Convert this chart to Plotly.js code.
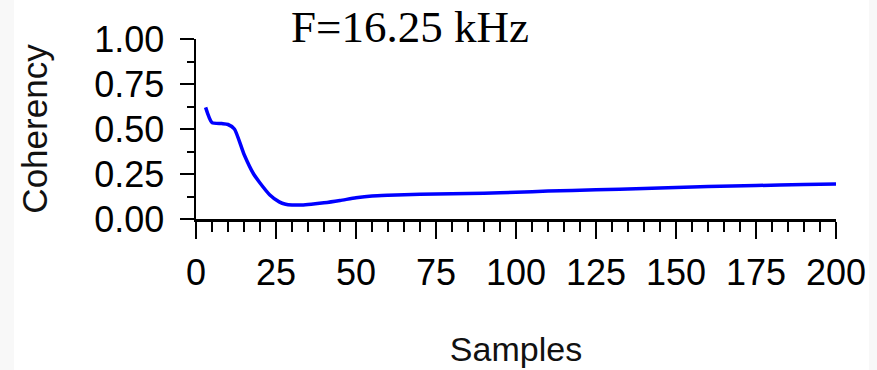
<!DOCTYPE html>
<html>
<head>
<meta charset="utf-8">
<script src="https://cdn.plot.ly/plotly-3.0.1.min.js"></script>
<style>html,body{margin:0;padding:0;background:#fff;}#chart{width:877px;height:370px;}</style>
</head>
<body>
<div id="chart"></div>
<script>
const titleText = "F=16.25 kHz";
const xTitle = "Samples";
const yTitle = "Coherency";
const samples = [3, 5, 8, 10, 12, 15, 18, 20, 23, 26, 28, 30, 33, 36, 40, 45, 50, 55, 60, 70, 80, 90, 100, 110, 125, 140, 150, 160, 175, 190, 200];
const coherency = [0.62, 0.535, 0.53, 0.525, 0.50, 0.36, 0.25, 0.20, 0.135, 0.095, 0.082, 0.078, 0.078, 0.082, 0.09, 0.103, 0.118, 0.128, 0.132, 0.137, 0.14, 0.143, 0.148, 0.155, 0.162, 0.17, 0.175, 0.18, 0.186, 0.192, 0.195];
const xTicks = [0, 25, 50, 75, 100, 125, 150, 175, 200];
const yTicks = [0, 0.25, 0.5, 0.75, 1.0];
const yTickLabels = ["0.00", "0.25", "0.50", "0.75", "1.00"];

const sans = "Liberation Sans, Arial, sans-serif";
const trace = {
  x: samples, y: coherency, type: "scatter", mode: "lines",
  line: {color: "#0000ff", width: 3.5, shape: "spline", smoothing: 0.6},
  hoverinfo: "skip"
};
const layout = {
  width: 877, height: 370,
  margin: {l: 196, r: 41, t: 39, b: 151},
  paper_bgcolor: "#fff", plot_bgcolor: "#fff",
  showlegend: false,
  xaxis: {
    range: [0, 200], tickvals: xTicks, ticks: "outside", ticklen: 17, tickwidth: 2, tickcolor: "#000",
    showline: true, linecolor: "#000", linewidth: 2.5, showgrid: false, zeroline: false,
    tickfont: {family: sans, size: 36, color: "#000"}, ticklabelstandoff: 3,
    minor: {dtick: 5, ticks: "outside", ticklen: 10, tickwidth: 2, tickcolor: "#000", showgrid: false},
    title: {text: xTitle, font: {family: sans, size: 34, color: "#111"}, standoff: 46}
  },
  yaxis: {
    range: [0, 1], tickvals: yTicks, ticktext: yTickLabels, ticks: "outside", ticklen: 14, tickwidth: 2, tickcolor: "#000",
    showline: true, linecolor: "#000", linewidth: 2.5, showgrid: false, zeroline: false,
    tickfont: {family: sans, size: 36, color: "#000"}, ticklabelstandoff: 8,
    minor: {dtick: 0.125, ticks: "outside", ticklen: 7, tickwidth: 2, tickcolor: "#000", showgrid: false},
    title: {text: yTitle, font: {family: sans, size: 35, color: "#111"}, standoff: 36}
  },
  annotations: [{
    text: titleText, xref: "paper", yref: "paper",
    x: (410 - 196) / 640, y: 1 + (39 - 27) / 180, xanchor: "center", yanchor: "middle",
    showarrow: false, font: {family: "Liberation Serif, Times New Roman, serif", size: 45, color: "#000"}
  }],
  shapes: [
    {type: "rect", xref: "paper", yref: "paper", x0: -196/640, x1: -182/640, y0: -151/180, y1: 1 + 39/180, fillcolor: "#f8f8f8", line: {width: 0}, layer: "below"},
    {type: "rect", xref: "paper", yref: "paper", x0: 1 + 33/640, x1: 1 + 41/640, y0: -151/180, y1: 1 + 39/180, fillcolor: "#f8f8f8", line: {width: 0}, layer: "below"}
  ]
};
Plotly.newPlot("chart", [trace], layout, {displayModeBar: false, staticPlot: true});
</script>
</body>
</html>
